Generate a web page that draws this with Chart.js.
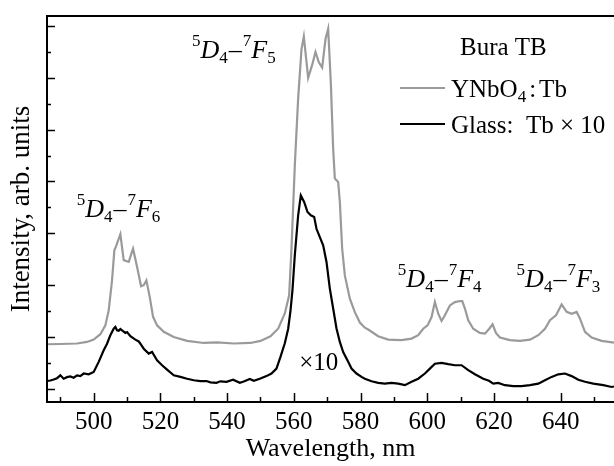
<!DOCTYPE html>
<html><head><meta charset="utf-8">
<script src="https://cdn.jsdelivr.net/npm/chart.js@4.4.1/dist/chart.umd.min.js"></script>
<style>html,body{margin:0;padding:0;background:#fff}canvas{display:block}</style>
</head><body>
<canvas id="c" width="614" height="466" style="width:614px;height:466px"></canvas>
<script>
// ---- data (wavelength in nm, intensity in arbitrary units) ----
const grayWavelengths = [486,490,495,498,500,502,503.5,504.5,505.5,506.2,506.8,508,509,510.5,511.8,513,514.2,515,515.8,516.8,517.8,519,521,524,528,533,537,542,547,550,553,555.3,557.3,558.6,559.3,560.3,561.3,562.3,563,564.3,565.5,566.5,567.5,568.5,569.5,570.3,571.1,571.8,572.3,573.3,573.8,574.5,575.3,576.8,578.3,579.8,581.3,582.3,585.3,588.3,592.3,595.3,597.3,598.8,600.1,601.3,602.3,603.3,604.3,605.3,606.8,608.3,609.8,610.5,611.3,612.3,613.8,615.8,617.3,618.6,619.6,620.6,621.8,624.8,627.8,630.8,633.3,635.3,636.8,638.6,640.3,641.8,643.3,644.8,645.8,647.3,649.3,652.3,656];
const grayIntensity = [1.71,1.72,1.74,1.80,1.89,2.10,2.44,3.02,4.18,5.34,5.53,5.96,4.96,4.89,5.40,4.70,3.95,3.99,4.18,3.54,2.77,2.44,2.19,1.99,1.84,1.76,1.78,1.74,1.76,1.84,2.02,2.31,2.90,3.6,5.40,8.62,11.2,13.1,13.6,12.0,12.5,13.0,12.6,12.4,13.5,13.9,11.8,9.26,8.11,7.98,7.21,5.40,4.37,3.47,2.95,2.55,2.35,2.28,2.02,1.89,1.87,1.93,2.06,2.31,2.44,2.76,3.34,2.89,2.61,2.83,3.21,3.34,3.38,3.38,3.09,2.64,2.31,2.15,2.12,2.31,2.48,2.15,1.97,1.87,1.84,1.89,2.06,2.31,2.64,2.83,3.25,2.96,2.89,2.96,2.70,2.19,1.97,1.84,1.77];
const glassWavelengths = [486,487,488,489,490,491,492,493,494,495,496,497,498.5,500,501.5,503,504,505,506,506.5,507,507.5,508,508.5,509.5,510,511,512.5,513.5,514,515,516.5,517.5,519,520.5,522,524,526,528,530,532,533.8,535,536.8,538,539.8,541.8,543.8,545,546.8,548,549.8,551.8,553.3,554.8,556,557.3,558.3,559,559.6,560.3,561.3,562.1,563.1,564.1,565.1,566.1,566.8,567.8,568.8,569.8,570.8,571.8,572.8,573.8,574.8,576.3,577.3,578.8,580.3,581.3,583.3,585.3,587.3,589.3,591.3,593.3,595.3,597.3,599.3,600.8,602.3,604.3,606.3,608.3,610.3,612.3,614.3,616.8,618.5,619.8,621.3,623.3,625.8,628.3,630.8,633.3,635.3,637.3,639.3,641.3,643.3,645.3,647.3,649.8,652.8,655.3,656];
const glassIntensity = [0.29,0.31,0.35,0.40,0.51,0.38,0.44,0.47,0.42,0.51,0.48,0.58,0.55,0.64,1.03,1.48,1.73,2.06,2.31,2.38,2.25,2.23,2.30,2.25,2.15,2.18,2.02,1.89,1.82,1.73,1.54,1.35,1.41,1.09,0.90,0.73,0.51,0.45,0.38,0.32,0.29,0.29,0.24,0.22,0.28,0.26,0.34,0.22,0.27,0.37,0.30,0.38,0.48,0.58,0.77,1.22,1.75,2.30,3.00,3.80,5.15,6.69,7.46,7.21,6.82,6.69,6.63,6.17,5.85,5.53,4.89,3.86,3.09,2.32,1.80,1.41,1.03,0.77,0.58,0.45,0.38,0.28,0.22,0.19,0.22,0.19,0.13,0.26,0.38,0.58,0.77,0.96,0.99,0.94,0.90,0.90,0.71,0.55,0.38,0.30,0.19,0.22,0.13,0.09,0.09,0.13,0.19,0.32,0.45,0.55,0.58,0.48,0.34,0.26,0.19,0.13,0.06,0.08];
const xTickLabels = [500,520,540,560,580,600,620,640];
const xMinorTicks = [490,510,530,550,570,590,610,630,650];
const yMajorTicks = [0,2,4,6,8,10,12,14];
const yMinorTicks = [1,3,5,7,9,11,13];
const seriesNames = ['YNbO4:Tb','Glass: Tb×10'];
const legendTitle = 'Bura TB';
const transitionJ = ['6','5','4','3'];

const SERIF = '"Liberation Serif","Times New Roman",serif';

function pts(xs, ys){ return xs.map((x,i)=>({x:x, y:ys[i]})); }

// draw 5D4–7FJ term label
function drawTerm(ctx, x, y, J){
  const big = '26px ' + SERIF, bigI = 'italic 26px ' + SERIF, small = '17px ' + SERIF;
  ctx.textBaseline = 'alphabetic'; ctx.textAlign = 'left'; ctx.fillStyle = '#000';
  const parts = [
    ['5', small, -12, 0], ['D', bigI, 0, 0], ['4', small, 5, 1], ['–', big, 0, 1],
    ['7', small, -12, 0], ['F', bigI, 0, 0], [J, small, 5, 0]
  ];
  let cx = x;
  for (const [t,f,dy,gap] of parts){
    ctx.font = f; ctx.fillText(t, cx, y+dy); cx += ctx.measureText(t).width + gap;
  }
}

const framePlugin = {
  id:'frame',
  afterDatasetsDraw(chart){
    const ctx = chart.ctx, a = chart.chartArea;
    const xs = chart.scales.x, ys = chart.scales.y;
    ctx.save();
    ctx.strokeStyle = '#000'; ctx.lineWidth = 2;
    ctx.beginPath();
    ctx.moveTo(a.left, a.top); ctx.lineTo(a.right+2, a.top);
    ctx.moveTo(a.left, a.top-1); ctx.lineTo(a.left, a.bottom+1);
    ctx.moveTo(a.left-1, a.bottom); ctx.lineTo(a.right+2, a.bottom);
    ctx.stroke();
    ctx.lineWidth = 1.5;
    ctx.beginPath();
    for (const v of xTickLabels){ const p = Math.round(xs.getPixelForValue(v))+0.5; ctx.moveTo(p,a.bottom); ctx.lineTo(p,a.bottom-9); }
    for (const v of xMinorTicks){ const p = Math.round(xs.getPixelForValue(v))+0.5; ctx.moveTo(p,a.bottom); ctx.lineTo(p,a.bottom-5); }
    for (const v of yMajorTicks){ const p = Math.round(ys.getPixelForValue(v))+0.5; ctx.moveTo(a.left,p); ctx.lineTo(a.left+8,p); }
    for (const v of yMinorTicks){ const p = Math.round(ys.getPixelForValue(v))+0.5; ctx.moveTo(a.left,p); ctx.lineTo(a.left+4,p); }
    ctx.stroke();

    // transition labels (anchored in data coordinates)
    const anchors = [[494.9,6.61],[529.5,12.77],[591.2,3.91],[626.8,3.91]];
    anchors.forEach((p,i)=> drawTerm(ctx, xs.getPixelForValue(p[0]), ys.getPixelForValue(p[1]), transitionJ[i]));
    ctx.font = '25px ' + SERIF; ctx.fillStyle = '#000';
    ctx.fillText('×10', xs.getPixelForValue(561.6), ys.getPixelForValue(0.71));

    // legend
    ctx.font = '25px ' + SERIF; ctx.textBaseline = 'alphabetic';
    ctx.fillText(legendTitle, 460, 55);
    ctx.lineWidth = 2;
    ctx.strokeStyle = '#9a9a9a'; ctx.beginPath(); ctx.moveTo(400,88); ctx.lineTo(445,88); ctx.stroke();
    ctx.strokeStyle = '#000'; ctx.beginPath(); ctx.moveTo(400,124); ctx.lineTo(445,124); ctx.stroke();
    // YNbO4 : Tb
    let cx = 451;
    ctx.font = '25px ' + SERIF; ctx.fillText('YNbO', cx, 97); cx += ctx.measureText('YNbO').width;
    ctx.font = '17px ' + SERIF; ctx.fillText('4', cx, 102); cx += ctx.measureText('4').width + 3;
    ctx.font = '25px ' + SERIF; ctx.fillText(':', cx, 97); cx += ctx.measureText(':').width + 3;
    ctx.fillText('Tb', cx, 97);
    ctx.fillText('Glass:  Tb × 10', 451, 133);
    ctx.restore();
  }
};

new Chart(document.getElementById('c'), {
  type:'line',
  data:{ datasets:[
    { label: seriesNames[0], data: pts(grayWavelengths, grayIntensity), borderColor:'#9a9a9a', borderWidth:2.2, pointRadius:0, tension:0, order:2 },
    { label: seriesNames[1], data: pts(glassWavelengths, glassIntensity), borderColor:'#000', borderWidth:2.2, pointRadius:0, tension:0, order:1 }
  ]},
  options:{
    responsive:false, animation:false, devicePixelRatio:1,
    layout:{ padding:{ top:16, right:0, left:0, bottom:0 } },
    plugins:{ legend:{display:false}, tooltip:{enabled:false} },
    scales:{
      x:{ type:'linear', min:486, max:656,
        grid:{display:false, drawTicks:false}, border:{display:false},
        afterBuildTicks(s){ s.ticks = xTickLabels.map(v=>({value:v})); },
        afterFit(s){ s.height = 64; },
        ticks:{ color:'#000', font:{family:SERIF, size:25}, padding:5, maxRotation:0, autoSkip:false },
        title:{ display:true, text:'Wavelength, nm', color:'#000', font:{family:SERIF, size:26}, padding:{top:0,bottom:1} }
      },
      y:{ type:'linear', min:-0.52, max:14.39,
        grid:{display:false, drawTicks:false}, border:{display:false},
        ticks:{ display:false },
        afterFit(s){ s.width = 47; },
        title:{ display:true, text:'Intensity, arb. units', color:'#000', font:{family:SERIF, size:27}, padding:{top:6,bottom:0} }
      }
    }
  },
  plugins:[framePlugin]
});
</script>
</body></html>
